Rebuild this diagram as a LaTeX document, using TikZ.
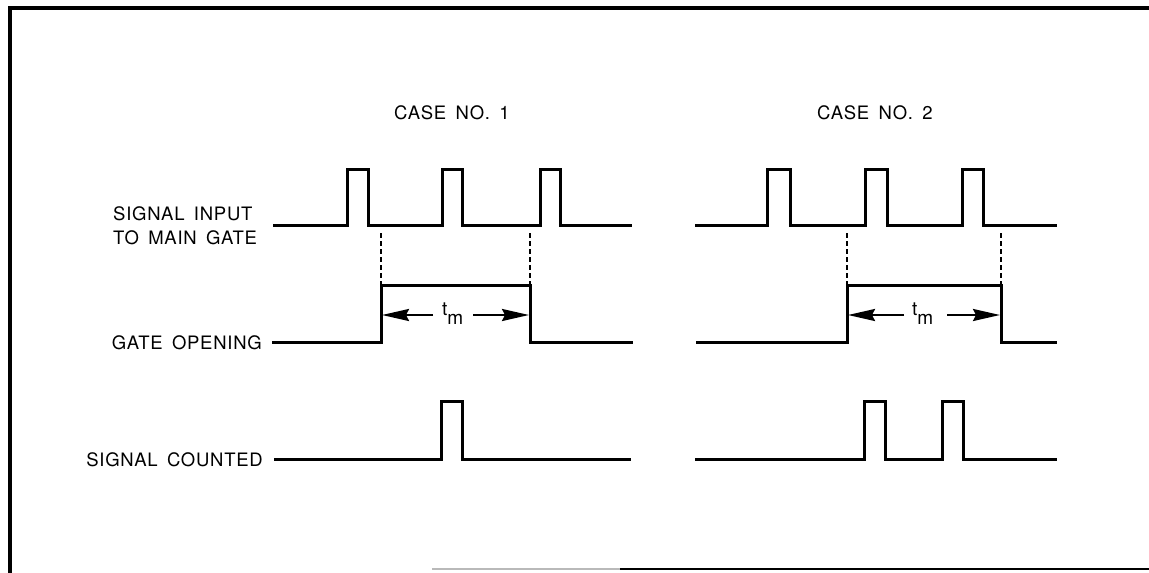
\documentclass[tikz,border=0pt]{standalone}
\usepackage{fontspec}
\setmainfont{TeX Gyre Heros}[LetterSpace=4,WordSpace=1.6]
\usetikzlibrary{arrows.meta}
\begin{document}
\begin{tikzpicture}[x=1pt,y=-1pt,
  sig/.style={line width=3pt},
  frame/.style={line width=3.2pt},
  guide/.style={line width=1.1pt, dash pattern=on 5pt off 3pt},
  dim/.style={line width=2.2pt, -{Stealth[length=27pt,width=12pt,inset=3pt]}},
  lab/.style={font=\fontsize{18.5}{22}\selectfont, inner sep=0pt},
  tmlab/.style={font=\fontsize{19}{22}\selectfont, inner sep=0pt}]
\fill[white] (0,0) rectangle (1149,573);
\useasboundingbox (0,0) rectangle (1149,573);
% frame
\draw[frame] (1149,8) -- (10,8) -- (10,573);
\draw[gray!55, line width=1.5pt] (432,569) -- (620,569);
\draw[line width=2.8pt] (620,569) -- (1149,569);
% titles
\node[lab] (c1) at (452,113) {CASE NO. 1};
\node[lab] (c2) at (875,113) {CASE NO. 2};
% row labels
\node[lab, anchor=base west] (si1) at (113,220) {SIGNAL INPUT};
\node[lab, anchor=base west] (si2) at (113,244) {TO MAIN GATE};
\node[lab, anchor=east] (go) at (262,343) {GATE OPENING};
\node[lab, anchor=east] (sc) at (263,460) {SIGNAL COUNTED};
% case 1 signals
\draw[sig] (273,225) -- (347,225) -- (347,169) -- (368,169) -- (368,225)
  -- (442,225) -- (442,169) -- (462,169) -- (462,225)
  -- (540,225) -- (540,169) -- (560,169) -- (560,225) -- (632,225);
\draw[sig] (272,342) -- (381,342) -- (381,285) -- (530,285) -- (530,342) -- (633,342);
\draw[sig] (274,459) -- (441,459) -- (441,401) -- (462,401) -- (462,459) -- (631,459);
\draw[guide] (381,233) -- (381,285);
\draw[guide] (530,233) -- (530,285);
% case 2 signals
\draw[sig] (695,225) -- (767,225) -- (767,169) -- (790,169) -- (790,225)
  -- (865,225) -- (865,169) -- (887,169) -- (887,225)
  -- (962,225) -- (962,169) -- (983,169) -- (983,225) -- (1057,225);
\draw[sig] (696,342) -- (847,342) -- (847,285) -- (1001,285) -- (1001,342) -- (1057,342);
\draw[sig] (695,459) -- (864,459) -- (864,401) -- (885,401) -- (885,459)
  -- (942,459) -- (942,401) -- (963,401) -- (963,459) -- (1057,459);
\draw[guide] (847,233) -- (847,285);
\draw[guide] (1001,233) -- (1001,285);
% t_m dimension arrows
\node[tmlab, anchor=base west] (tm1) at (442,315) {t\raisebox{-9pt}{m}};
\node[tmlab, anchor=base west] (tm2) at (912,315) {t\raisebox{-9pt}{m}};
\coordinate (a1l) at (433,315); \coordinate (a1r) at (473,315);
\coordinate (a2l) at (904,315); \coordinate (a2r) at (947,315);
\coordinate (e1l) at (382,315); \coordinate (e1r) at (529,315);
\coordinate (e2l) at (848,315); \coordinate (e2r) at (1000,315);
\draw[dim] (a1l) -- (e1l);
\draw[dim] (a1r) -- (e1r);
\draw[dim] (a2l) -- (e2l);
\draw[dim] (a2r) -- (e2r);
\end{tikzpicture}
\end{document}
